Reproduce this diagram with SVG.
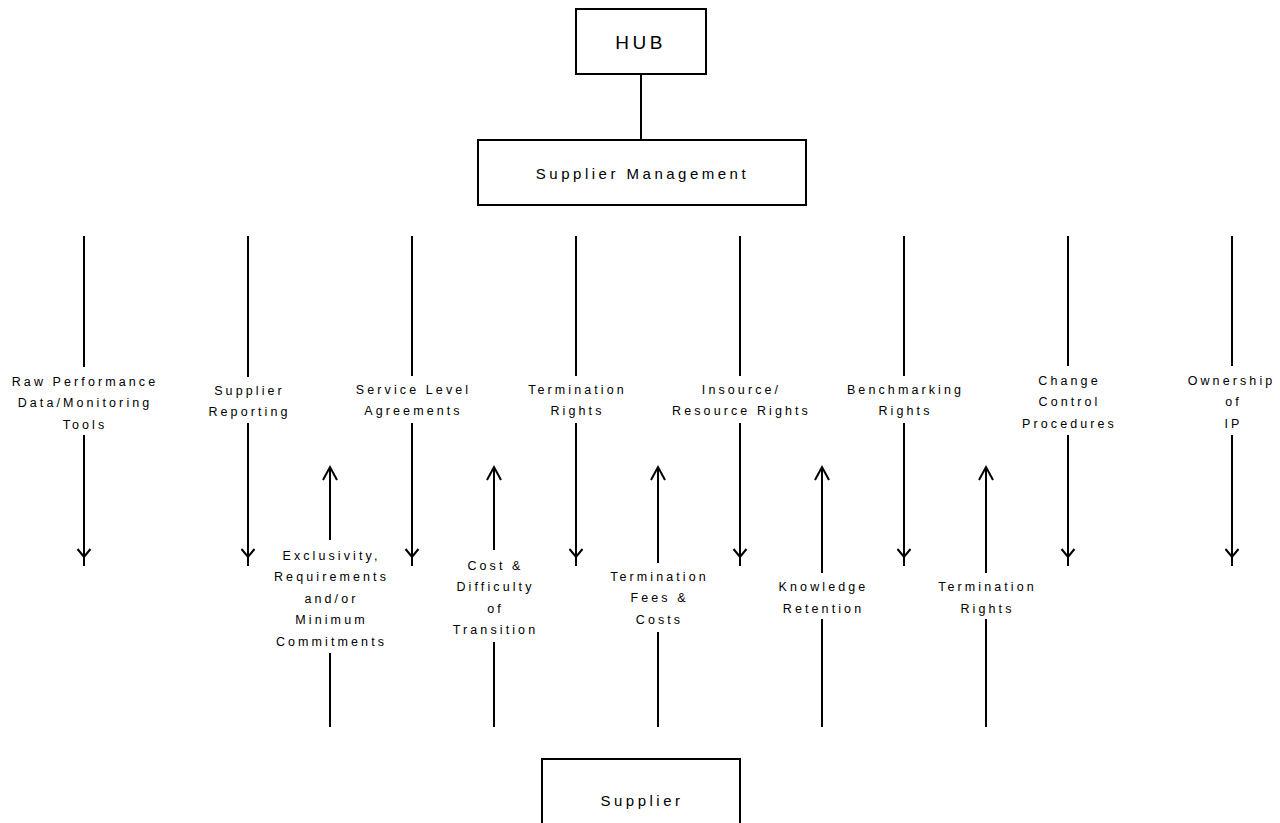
<svg xmlns="http://www.w3.org/2000/svg" width="1280" height="823" viewBox="0 0 1280 823">
<defs>
<style>
.box{fill:#fff;stroke:#000;stroke-width:2}
.ln{stroke:#000;stroke-width:2;fill:none}
.dn{marker-end:url(#mDown)}
.up{marker-end:url(#mUp)}
.gap{fill:#fff;stroke:none}
text{font-family:"Liberation Sans",Arial,Helvetica,sans-serif;fill:#000;text-anchor:middle}
.lbl{font-size:12.5px;letter-spacing:3.1px}
.nd{font-size:15px;letter-spacing:3.5px}
.hub{font-size:19px;letter-spacing:3.5px}
</style>
<marker id="mDown" viewBox="-20 -10 22 20" refX="0" refY="0" markerWidth="22" markerHeight="20" markerUnits="userSpaceOnUse" orient="auto" overflow="visible">
<path d="M-17,-6.5 L-9,0 L-17,6.5" fill="none" stroke="#000" stroke-width="2"/>
</marker>
<marker id="mUp" viewBox="-20 -10 22 20" refX="0" refY="0" markerWidth="22" markerHeight="20" markerUnits="userSpaceOnUse" orient="auto" overflow="visible">
<path d="M-13,-7 L0,0 L-13,7" fill="none" stroke="#000" stroke-width="2"/>
</marker>
</defs>
<rect width="1280" height="823" fill="#fff"/>

<g id="connectors">
<line class="ln" x1="641" y1="74" x2="641" y2="140"/>

<g id="e-raw">
<line class="ln dn" x1="84" y1="236" x2="84" y2="566"/>
<rect class="gap" x="78" y="367" width="12" height="68"/>
<text class="lbl"><tspan x="85" y="385.5">Raw Performance</tspan><tspan x="85" y="407">Data/Monitoring</tspan><tspan x="85" y="428.5">Tools</tspan></text>
</g>
<g id="e-rep">
<line class="ln dn" x1="248" y1="236" x2="248" y2="566"/>
<rect class="gap" x="242" y="377" width="12" height="46"/>
<text class="lbl"><tspan x="249.5" y="394.5">Supplier</tspan><tspan x="249.5" y="416">Reporting</tspan></text>
</g>
<g id="e-sla">
<line class="ln dn" x1="412" y1="236" x2="412" y2="566"/>
<rect class="gap" x="406" y="376" width="12" height="47"/>
<text class="lbl"><tspan x="413.5" y="393.5">Service Level</tspan><tspan x="413.5" y="415">Agreements</tspan></text>
</g>
<g id="e-term">
<line class="ln dn" x1="576" y1="236" x2="576" y2="566"/>
<rect class="gap" x="570" y="376" width="12" height="47"/>
<text class="lbl"><tspan x="577.5" y="393.5">Termination</tspan><tspan x="577.5" y="415">Rights</tspan></text>
</g>
<g id="e-ins">
<line class="ln dn" x1="740" y1="236" x2="740" y2="566"/>
<rect class="gap" x="734" y="376" width="12" height="47"/>
<text class="lbl"><tspan x="741.5" y="393.5">Insource/</tspan><tspan x="741.5" y="415">Resource Rights</tspan></text>
</g>
<g id="e-bench">
<line class="ln dn" x1="904" y1="236" x2="904" y2="566"/>
<rect class="gap" x="898" y="376" width="12" height="47"/>
<text class="lbl"><tspan x="905.5" y="393.5">Benchmarking</tspan><tspan x="905.5" y="415">Rights</tspan></text>
</g>
<g id="e-chg">
<line class="ln dn" x1="1068" y1="236" x2="1068" y2="566"/>
<rect class="gap" x="1062" y="366" width="12" height="69"/>
<text class="lbl"><tspan x="1069.5" y="384.5">Change</tspan><tspan x="1069.5" y="406">Control</tspan><tspan x="1069.5" y="427.5">Procedures</tspan></text>
</g>
<g id="e-ip">
<line class="ln dn" x1="1232" y1="236" x2="1232" y2="566"/>
<rect class="gap" x="1226" y="366" width="12" height="69"/>
<text class="lbl"><tspan x="1231.5" y="384.5">Ownership</tspan><tspan x="1233.5" y="406">of</tspan><tspan x="1233.5" y="427.5">IP</tspan></text>
</g>

<g id="e-excl">
<line class="ln up" x1="330" y1="727" x2="330" y2="467"/>
<rect class="gap" x="324" y="540" width="12" height="113"/>
<text class="lbl"><tspan x="331.5" y="559.5">Exclusivity,</tspan><tspan x="331.5" y="581">Requirements</tspan><tspan x="331.5" y="602.5">and/or</tspan><tspan x="331.5" y="624">Minimum</tspan><tspan x="331.5" y="645.5">Commitments</tspan></text>
</g>
<g id="e-cost">
<line class="ln up" x1="494" y1="727" x2="494" y2="467"/>
<rect class="gap" x="488" y="550" width="12" height="92"/>
<text class="lbl"><tspan x="495.5" y="569.5">Cost &amp;</tspan><tspan x="495.5" y="591">Difficulty</tspan><tspan x="495.5" y="612.5">of</tspan><tspan x="495.5" y="634">Transition</tspan></text>
</g>
<g id="e-fees">
<line class="ln up" x1="658" y1="727" x2="658" y2="467"/>
<rect class="gap" x="652" y="563" width="12" height="69"/>
<text class="lbl"><tspan x="659.5" y="580.5">Termination</tspan><tspan x="659.5" y="602">Fees &amp;</tspan><tspan x="659.5" y="623.5">Costs</tspan></text>
</g>
<g id="e-know">
<line class="ln up" x1="822" y1="727" x2="822" y2="467"/>
<rect class="gap" x="816" y="573" width="12" height="46"/>
<text class="lbl"><tspan x="823.5" y="591">Knowledge</tspan><tspan x="823.5" y="612.5">Retention</tspan></text>
</g>
<g id="e-term2">
<line class="ln up" x1="986" y1="727" x2="986" y2="467"/>
<rect class="gap" x="980" y="573" width="12" height="46"/>
<text class="lbl"><tspan x="987.5" y="591">Termination</tspan><tspan x="987.5" y="612.5">Rights</tspan></text>
</g>
</g>

<g id="hub">
<rect class="box" x="576" y="9" width="130" height="65"/>
<text class="hub" x="640.5" y="49">HUB</text>
</g>
<g id="supplier-management">
<rect class="box" x="478" y="140" width="328" height="65"/>
<text class="nd" x="642.5" y="179">Supplier Management</text>
</g>
<g id="supplier">
<rect class="box" x="542" y="759" width="198" height="80"/>
<text class="nd" x="642" y="806">Supplier</text>
</g>
</svg>
